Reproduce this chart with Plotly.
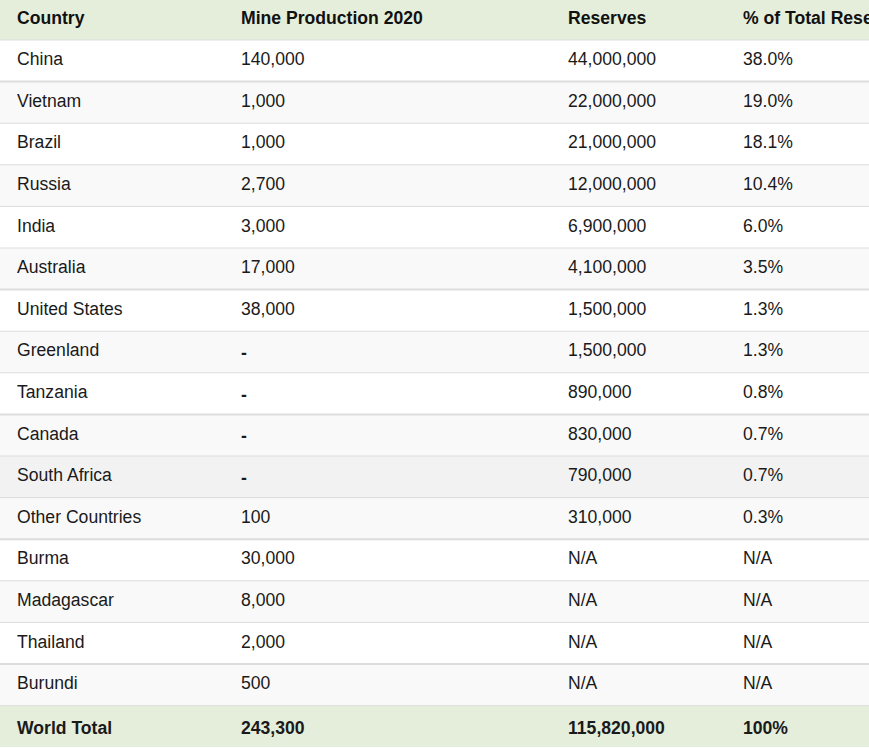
# RARE EARTH MINE PRODUCTION AND RESERVES BY COUNTRY - TABLE
# ----------------------------------------------------------------------------------------------------
import plotly.graph_objects as go

# DATA
# ----------------------------------------------------------------------------------------------------
headers = ['Country', 'Mine Production 2020', 'Reserves', '% of Total Reserves']

countries = ['China', 'Vietnam', 'Brazil', 'Russia', 'India', 'Australia', 'United States',
             'Greenland', 'Tanzania', 'Canada', 'South Africa', 'Other Countries', 'Burma',
             'Madagascar', 'Thailand', 'Burundi']
production = ['140,000', '1,000', '1,000', '2,700', '3,000', '17,000', '38,000',
              '-', '-', '-', '-', '100', '30,000', '8,000', '2,000', '500']
reserves = ['44,000,000', '22,000,000', '21,000,000', '12,000,000', '6,900,000', '4,100,000',
            '1,500,000', '1,500,000', '890,000', '830,000', '790,000', '310,000',
            'N/A', 'N/A', 'N/A', 'N/A']
share = ['38.0%', '19.0%', '18.1%', '10.4%', '6.0%', '3.5%', '1.3%', '1.3%', '0.8%',
         '0.7%', '0.7%', '0.3%', 'N/A', 'N/A', 'N/A', 'N/A']

total = ['World Total', '243,300', '115,820,000', '100%']

# STYLE
# ----------------------------------------------------------------------------------------------------
FIG_W, FIG_H = 1000, 748
HEADER_H = 40
ROW_H = 41.6
TEXT_SHIFT_BODY = 4      # plotly tables put text near the top of a cell, so body text is nudged down
GREEN = '#e5eeda'
LINE = '#dddddd'
TEXT = '#1a1a1a'
FONT = 'Liberation Sans, Arial, sans-serif'
FONT_SIZE = 17.6
COL_W = [9, 224, 327, 175, 265]

n_rows = len(countries) + 1
row_fill = []
for i in range(len(countries)):
    if countries[i] == 'South Africa':
        row_fill.append('#f2f2f2')
    elif i % 2 == 0:
        row_fill.append('#ffffff')
    else:
        row_fill.append('#f9f9f9')
row_fill.append(GREEN)

# columns: spacer + 4 data columns
spacer = [''] * n_rows
col_country = countries + ['<b>' + total[0] + '</b>']
col_prod = ['<b>-</b>' if v == '-' else v for v in production] + ['<b>' + total[1] + '</b>']
col_res = reserves + ['<b>' + total[2] + '</b>']
col_share = share + ['<b>' + total[3] + '</b>']

fig = go.Figure()

# background layer: row fills only
fig.add_trace(go.Table(
    columnwidth=COL_W,
    header=dict(values=[''] * 5, fill_color=GREEN, line=dict(width=0, color=GREEN),
                height=HEADER_H),
    cells=dict(values=[spacer] * 5, fill_color=[row_fill] * 5,
               line=dict(width=0, color=[row_fill] * 5), height=ROW_H),
    domain=dict(x=[0, 1], y=[0, 1]),
))

# text layer
fig.add_trace(go.Table(
    columnwidth=COL_W,
    header=dict(
        values=[''] + ['<b>' + h + '</b>' for h in headers],
        fill_color='rgba(0,0,0,0)',
        line=dict(width=0, color='rgba(0,0,0,0)'),
        align='left',
        height=HEADER_H + TEXT_SHIFT_BODY,
        font=dict(family=FONT, size=FONT_SIZE, color='#111111'),
    ),
    cells=dict(
        values=[spacer, col_country, col_prod, col_res, col_share],
        fill_color='rgba(0,0,0,0)',
        line=dict(width=0, color='rgba(0,0,0,0)'),
        align='left',
        height=ROW_H,
        font=dict(family=FONT, size=FONT_SIZE, color=TEXT),
    ),
    domain=dict(x=[0, 1], y=[0, 1]),
))

# horizontal row separators (thicker after a few rows, as in the source page)
thick_after = ['China', 'Australia', 'Tanzania', 'Other Countries', 'Thailand']
for i in range(-1, n_rows - 1):
    y_px = HEADER_H + (i + 1) * ROW_H
    w = 2 if 0 <= i < len(countries) and countries[i] in thick_after else 1
    fig.add_shape(type='line', xref='paper', yref='paper',
                  x0=0, x1=1, y0=1 - y_px / FIG_H, y1=1 - y_px / FIG_H,
                  line=dict(color=LINE, width=w))

fig.update_layout(
    width=FIG_W,
    height=FIG_H,
    margin=dict(l=0, r=0, t=0, b=0),
    paper_bgcolor='white',
    plot_bgcolor='white',
)

fig.write_html(
    'out.html',
    config={'displayModeBar': False},
    post_script="document.body.style.margin='0';document.body.style.overflow='hidden';",
)
